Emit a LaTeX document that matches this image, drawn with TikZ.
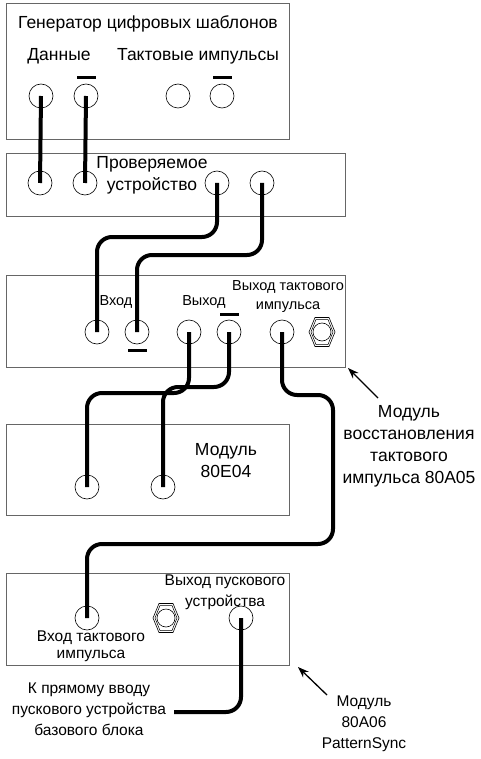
\documentclass[tikz,border=0pt]{standalone}
\usepackage{fontspec}
\setmainfont{Liberation Sans}
\usetikzlibrary{arrows.meta,positioning}
\tikzset{%
  panel/.style={draw=black!60,line width=0.8pt},
  jack/.style={draw,circle,minimum size=24pt,inner sep=0pt,line width=0.6pt},
  bar/.style={fill,minimum width=19pt,minimum height=3pt,inner sep=0pt},
  wire/.style={line width=4pt,rounded corners=15pt},
  label/.style={align=center,inner sep=0pt,font=\fontsize{17.5}{22}\selectfont},
  smalllabel/.style={label,font=\fontsize{14.5}{19}\selectfont},
  midlabel/.style={label,font=\fontsize{15.5}{21}\selectfont},
  pointer/.style={-{Stealth[length=11pt,width=8pt]},line width=1.3pt}
}
\newcommand{\nut}[1]{% hex nut at #1
  \draw[line width=0.6pt] #1 ++(-13,0) -- ++(6,-14.5) -- ++(14,0) -- ++(6,14.5)
    -- ++(-6,14.5) -- ++(-14,0) -- cycle;
  \draw[line width=0.5pt] #1 ++(-11,0) -- ++(5,-12.5) -- ++(12,0) -- ++(5,12.5)
    -- ++(-5,12.5) -- ++(-12,0) -- cycle;
  \draw[line width=0.6pt] #1 circle (9);
}
\begin{document}
\begin{tikzpicture}[x=1pt,y=-1pt]
  \useasboundingbox (0,0) rectangle (481,759);
  % panels
  \draw[panel] (6,3) rectangle (289,139);
  \draw[panel] (6,153) rectangle (345,216);
  \draw[panel] (6,275) rectangle (345,367);
  \draw[panel] (6,424) rectangle (289,515);
  \draw[panel] (6,573) rectangle (289,665);
  % pattern generator
  \node[label] (gen) at (148,24) {Генератор цифровых шаблонов};
  \node[label] (data) at (59,56) {Данные};
  \node[label] (clk) at (198,56) {Тактовые импульсы};
  \node[jack] (gd) at (41,96) {};
  \node[jack] (gdn) at (86,96) {};
  \node[jack] (gc) at (178,96) {};
  \node[jack] (gcn) at (222,96) {};
  \node[bar,above=4pt of gdn] {};
  \node[bar,above=4pt of gcn] {};
  % device under test
  \node[label] (dut) at (152,175) {Проверяемое\\устройство};
  \node[jack] (dut1) at (40,183) {};
  \node[jack] (dut2) at (85,183) {};
  \node[jack] (dut3) at (217,183) {};
  \node[jack] (dut4) at (262,183) {};
  % clock recovery module
  \node[smalllabel] (inlbl) at (116,302) {Вход};
  \node[smalllabel] (outlbl) at (204,302) {Выход};
  \node[smalllabel] (clkout) at (288,297) {Выход тактового\\импульса};
  \node[jack] (in1) at (97,332) {};
  \node[jack] (in2) at (137,332) {};
  \node[jack] (out1) at (189,332) {};
  \node[jack] (out2) at (229,332) {};
  \node[jack] (clko) at (282,332) {};
  \node[bar,below=4pt of in2] {};
  \node[bar,above=4pt of out2] {};
  \nut{(322,332)}
  % 80E04
  \node[label] (emod) at (226,461) {Модуль\\80E04};
  \node[jack] (e1) at (87,487) {};
  \node[jack] (e2) at (163,487) {};
  % PatternSync
  \node[midlabel] (trigout) at (225,592) {Выход пускового\\устройства};
  \node[midlabel,font=\fontsize{15.5}{17}\selectfont] (clkin) at (91,646) {Вход тактового\\импульса};
  \node[jack] (ptin) at (87,618) {};
  \node[jack] (ptout) at (241,618) {};
  \nut{(166,618)}
  \node[midlabel] (direct) at (89,709) {К прямому вводу\\пускового устройства\\базового блока};
  % callouts
  \node[label] (recov) at (409,446) {Модуль\\восстановления\\тактового\\импульса 80A05};
  \node[midlabel] (psync) at (364,724) {Модуль\\80A06\\PatternSync};
  \draw[pointer] (378,398) -- (348,368);
  \draw[pointer] (327,695) -- (298,667);
  % cables
  \draw[wire] (gd.center) -- (dut1.center);
  \draw[wire] (gdn.center) -- (dut2.center);
  \draw[wire] (dut3.center) -- ++(0,54) -| (in1.center);
  \draw[wire] (dut4.center) -- ++(0,72) -| (in2.center);
  \draw[wire] (out1.center) -- ++(0,61) -| (e1.center);
  \draw[wire] (out2.center) -- ++(0,55) -| (e2.center);
  \draw[wire] (clko.center) -- ++(0,63) -| (333,544) -| (ptin.center);
  \draw[wire] (ptout.center) |- ([xshift=8pt,yshift=-3pt]direct.east);
\end{tikzpicture}
\end{document}
